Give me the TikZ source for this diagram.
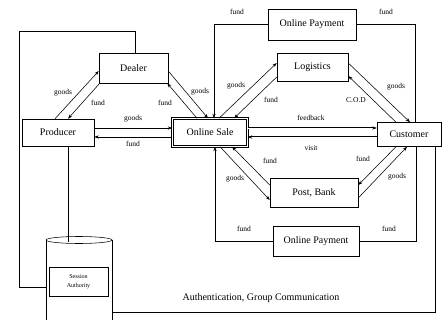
\documentclass[tikz,border=0pt]{standalone}
\usepackage{fontspec}
\setmainfont{Liberation Serif}
\usetikzlibrary{arrows.meta}
\begin{document}
\begin{tikzpicture}[x=1pt,y=-1pt,
  line width=0.55pt,
  box/.style={draw, inner sep=0pt, font=\fontsize{10}{12}\selectfont},
  lbl/.style={inner sep=0pt, font=\fontsize{7.5}{9}\selectfont},
  arr/.style={-{Stealth[length=4.5pt,width=3.2pt]}},
  dbl/.style={double, double distance=0.9pt, line width=0.45pt}]
\useasboundingbox (0,0) rectangle (443,320);
\clip (0,0) rectangle (443,320);
\fill[white] (0,0) rectangle (443,320);

% nodes
\node[box, minimum width=69pt, minimum height=30pt] (dealer) at (133.5,68) {Dealer};
\node[box, minimum width=72pt, minimum height=27pt] (producer) at (58,132.5) {Producer};
\node[box, minimum width=75pt, minimum height=28pt, double, double distance=1.3pt, line width=0.45pt] (sale) at (210,132.5) {Online Sale};
\node[box, minimum width=88pt, minimum height=31pt] (opt) at (312,24.5) {Online Payment};
\node[box, minimum width=71pt, minimum height=28pt] (log) at (312.5,67) {Logistics};
\node[box, minimum width=64pt, minimum height=24pt] (cust) at (409,134.5) {Customer};
\node[box, minimum width=88pt, minimum height=29pt] (post) at (314,192.5) {Post, Bank};
\node[box, minimum width=86pt, minimum height=30pt] (opb) at (316,241) {Online Payment};

% cylinder
\draw (46,240) -- (46,330);
\draw (112,240) -- (112,330);
\draw (79,240) ellipse [x radius=33, y radius=3.5];
\node[draw, inner sep=0pt, minimum width=59pt, minimum height=29pt, align=center,
      font=\fontsize{6}{9}\selectfont] (session) at (78.5,281.5) {Session\\Authority};
\coordinate (cylL) at (46,287);
\coordinate (cylR) at (112,312);
\coordinate (cylT) at (68,242);
\coordinate (tl) at (19,31);
\coordinate (bl) at (19,287);

% left loop and producer to cylinder
\draw ([xshift=1.5pt]dealer.north) |- (tl) -- (bl) -- (cylL);
\draw ([xshift=10pt]producer.south) -- (cylT);

% producer - dealer
\draw[arr] ([xshift=-3pt]producer.north) -- ([yshift=-3pt]dealer.west);
\draw[arr] ([xshift=1pt]dealer.south west) -- ([xshift=10pt]producer.north);
% dealer - sale
\draw[arr] ([yshift=-3pt]dealer.east) -- ([xshift=-2pt]sale.north);
\draw[arr] ([xshift=-13pt]sale.north) -- ([xshift=-1pt]dealer.south east);
% producer - sale
\draw[arr] ([yshift=4.5pt]producer.east) -- ([yshift=4.5pt]producer.east -| sale.west);
\draw[arr] ([yshift=-4.5pt]producer.east -| sale.west) -- ([yshift=-4.5pt]producer.east);
% sale - logistics
\draw[arr] ([xshift=9pt]sale.north) -- ([yshift=4pt]log.west);
\draw[arr] ([yshift=-10pt]log.west) -- ([xshift=24pt]sale.north);
% logistics - customer
\draw[arr] ([yshift=4pt]log.east) -- ([xshift=1pt]cust.north);
\draw[arr] ([xshift=-13pt]cust.north) -- ([yshift=-9pt]log.east);
% sale - customer
\draw[arr, dbl] ([yshift=4.5pt]sale.east) -- ([yshift=4.5pt]sale.east -| cust.west);
\draw[arr, dbl] ([yshift=-4.5pt]sale.east -| cust.west) -- ([yshift=-4.5pt]sale.east);
% sale - post
\draw[arr] ([xshift=10pt]sale.south) -- ([yshift=-7.5pt]post.west);
\draw[arr] ([yshift=7.5pt]post.west) -- ([xshift=22pt]sale.south);
% post - customer
\draw[arr] ([yshift=-5.5pt]post.east) -- ([xshift=-2pt]cust.south);
\draw[arr] ([xshift=-13pt]cust.south) -- ([yshift=7.5pt]post.east);
% online payments
\draw[arr] (opt.west) -| ([xshift=4pt]sale.north);
\draw (opt.east) -| ([xshift=6pt]cust.north);
\draw[arr] (opb.west) -| ([xshift=5pt]sale.south);
\draw (opb.east) -| ([xshift=7pt]cust.south);
% authentication loop
\draw (cylR) -| ([xshift=26pt]cust.south);

% labels
\node[lbl] (l1) at (63,93) {goods};
\node[lbl] (l2) at (98,103) {fund};
\node[lbl] (l3) at (165,103) {fund};
\node[lbl] (l4) at (200,92) {goods};
\node[lbl] (l5) at (133,119) {goods};
\node[lbl] (l6) at (133,144) {fund};
\node[lbl] (l7) at (237,12) {fund};
\node[lbl] (l8) at (386,12) {fund};
\node[lbl] (l9) at (236,86) {goods};
\node[lbl] (l10) at (271,100) {fund};
\node[lbl] (l11) at (396,87) {goods};
\node[lbl] (l12) at (356,100) {C.O.D};
\node[lbl] (l13) at (311,118) {feedback};
\node[lbl] (l14) at (311,148) {visit};
\node[lbl] (l15) at (270,161) {fund};
\node[lbl] (l16) at (363,159) {fund};
\node[lbl] (l17) at (235,179) {goods};
\node[lbl] (l18) at (397,177) {goods};
\node[lbl] (l19) at (244,229) {fund};
\node[lbl] (l20) at (389,229) {fund};
\node[inner sep=0pt, font=\fontsize{10}{12}\selectfont] (auth) at (261,298) {Authentication, Group Communication};
\end{tikzpicture}
\end{document}
